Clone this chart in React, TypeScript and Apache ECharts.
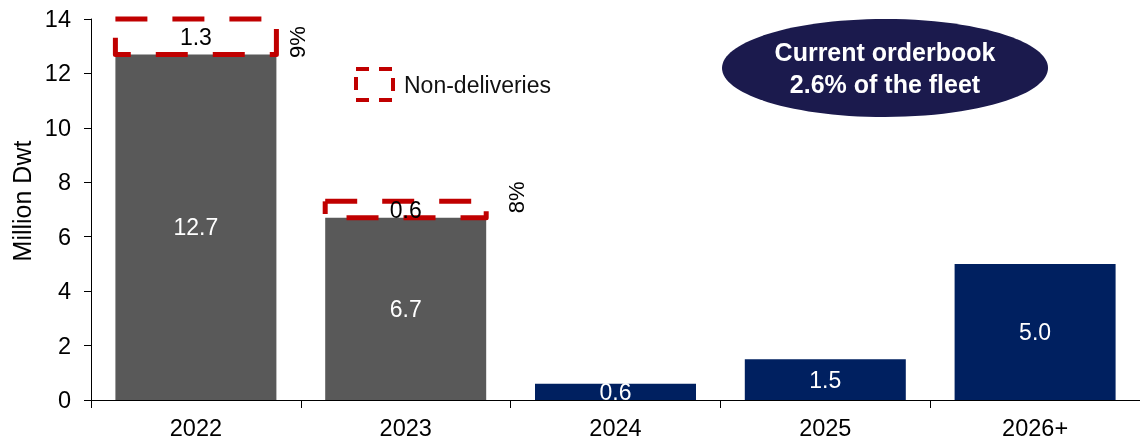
import React, { useEffect, useRef } from "react";
import * as echarts from "echarts";

// Dry bulk deliveries by year (million dwt)
const years = ["2022", "2023", "2024", "2025", "2026+"];
const delivered = [12.7, 6.7, null, null, null];
const orderbook = [null, null, 0.6, 1.5, 5.0];
const nonDeliveries = [1.3, 0.6, null, null, null];
const yTicks = { min: 0, max: 14, interval: 2 };
// where each share label sits, relative to the top-right corner of its dashed box
const pctLabelOffsets: [number, number][] = [[21, 23], [30, -4]];

const FONT = '"Liberation Sans", Arial, "DejaVu Sans", sans-serif';
const RED = "#C00000";
const BAR_WIDTH = 161;
const DASH = 32;
const GAP = 25;

// Split a rectangle outline (clockwise from its top-left corner) into dash pieces.
function dashedRectPieces(x: number, y: number, w: number, h: number): number[][][] {
  const corners = [[x, y], [x + w, y], [x + w, y + h], [x, y + h], [x, y]];
  const cum = [0, w, w + h, 2 * w + h, 2 * w + 2 * h];
  const perimeter = cum[4];
  const pointAt = (s: number) => {
    for (let k = 0; k < 4; k++) {
      if (s <= cum[k + 1]) {
        const t = (s - cum[k]) / (cum[k + 1] - cum[k] || 1);
        return [
          corners[k][0] + (corners[k + 1][0] - corners[k][0]) * t,
          corners[k][1] + (corners[k + 1][1] - corners[k][1]) * t,
        ];
      }
    }
    return corners[4];
  };
  const pieces: number[][][] = [];
  for (let start = 0; start < perimeter; start += DASH + GAP) {
    const end = Math.min(start + DASH, perimeter);
    const pts = [pointAt(start)];
    for (let k = 1; k < 4; k++) {
      if (cum[k] > start && cum[k] < end) pts.push(corners[k]);
    }
    pts.push(pointAt(end));
    pieces.push(pts);
  }
  return pieces;
}

export default function App() {
  const ref = useRef<HTMLDivElement>(null);

  useEffect(() => {
    if (!ref.current) return;
    const chart = echarts.init(ref.current, undefined, { renderer: "svg" });

    // [category index, delivered base, non-delivered amount]
    const ndData = nonDeliveries
      .map((nd, i) => (nd == null || delivered[i] == null ? null : [i, delivered[i], nd]))
      .filter(Boolean) as number[][];

    const valueLabel = (color: string) => ({
      show: true,
      position: "inside",
      color,
      fontSize: 23,
      fontFamily: FONT,
      formatter: (p: any) => (p.value == null ? "" : Number(p.value).toFixed(1)),
    });

    chart.setOption({
      animation: false,
      textStyle: { fontFamily: FONT },
      grid: { left: 91, right: -2, top: 19, bottom: 40, containLabel: false },
      legend: {
        data: ["Non-deliveries"],
        left: 354,
        top: 67,
        padding: 0,
        itemWidth: 37,
        itemHeight: 31,
        icon: "rect",
        itemStyle: {
          color: "transparent",
          borderColor: RED,
          borderWidth: 4,
          borderType: [13, 10],
        },
        textStyle: { color: "#111", fontSize: 23, fontFamily: FONT, padding: [0, 0, 0, 6] },
        selectedMode: false,
      },
      xAxis: {
        type: "category",
        data: years,
        axisLine: { lineStyle: { color: "#000", width: 1 } },
        axisTick: { show: true, length: 8, interval: 0, lineStyle: { color: "#000" } },
        axisLabel: { color: "#000", fontSize: 23.5, fontFamily: FONT, margin: 16 },
      },
      yAxis: {
        type: "value",
        min: yTicks.min,
        max: yTicks.max,
        interval: yTicks.interval,
        splitLine: { show: false },
        axisLine: { show: true, lineStyle: { color: "#000", width: 1 } },
        axisTick: { show: true, length: 7, lineStyle: { color: "#000" } },
        axisLabel: { color: "#000", fontSize: 23.5, fontFamily: FONT, margin: 20 },
      },
      series: [
        {
          name: "Delivered",
          type: "bar",
          stack: "total",
          barWidth: BAR_WIDTH,
          data: delivered,
          itemStyle: { color: "#595959" },
          label: valueLabel("#fff"),
        },
        {
          name: "Orderbook",
          type: "bar",
          stack: "total",
          barWidth: BAR_WIDTH,
          data: orderbook,
          itemStyle: { color: "#002060" },
          label: valueLabel("#fff"),
        },
        {
          // dashed box stacked on the delivered bar, with its value and its share of the total
          name: "Non-deliveries",
          type: "custom",
          data: ndData,
          encode: { x: 0, y: 2 },
          z: 3,
          itemStyle: { color: "transparent", borderColor: RED },
          renderItem: (params: any, api: any) => {
            const idx = api.value(0);
            const base = api.value(1);
            const nd = api.value(2);
            const top = api.coord([idx, base + nd]);
            const bottom = api.coord([idx, base]);
            const x = top[0] - BAR_WIDTH / 2;
            const off = pctLabelOffsets[params.dataIndex] || [24, 0];
            const pct = Math.round((nd / (base + nd)) * 100);
            const dashes = dashedRectPieces(x, top[1], BAR_WIDTH, bottom[1] - top[1]).map(
              (pts) => ({
                type: "polyline",
                shape: { points: pts },
                style: {
                  fill: "none",
                  stroke: RED,
                  lineWidth: 5,
                  lineJoin: "round",
                  lineCap: "butt",
                },
              })
            );
            return {
              type: "group",
              children: [
                ...dashes,
                {
                  type: "text",
                  x: top[0],
                  y: (top[1] + bottom[1]) / 2,
                  style: {
                    text: nd.toFixed(1),
                    fill: "#000",
                    font: `23px ${FONT}`,
                    align: "center",
                    verticalAlign: "middle",
                  },
                },
                {
                  type: "text",
                  x: x + BAR_WIDTH + off[0],
                  y: top[1] + off[1],
                  rotation: Math.PI / 2,
                  style: {
                    text: `${pct}%`,
                    fill: "#000",
                    font: `22px ${FONT}`,
                    align: "center",
                    verticalAlign: "middle",
                  },
                },
              ],
            };
          },
        },
      ],
      graphic: [
        {
          type: "text",
          x: 22,
          y: 201,
          rotation: Math.PI / 2,
          style: {
            text: "Million Dwt",
            fill: "#000",
            font: `25px ${FONT}`,
            align: "center",
            verticalAlign: "middle",
          },
        },
        {
          type: "ellipse",
          shape: { cx: 885, cy: 68, rx: 163, ry: 49 },
          style: { fill: "#1b1a4d" },
        },
        {
          type: "text",
          x: 885,
          y: 68,
          style: {
            text: "Current orderbook\n2.6% of the fleet",
            fill: "#fff",
            font: `bold 25px ${FONT}`,
            lineHeight: 32,
            align: "center",
            verticalAlign: "middle",
          },
        },
      ],
    });

    return () => chart.dispose();
  }, []);

  return (
    <div
      ref={ref}
      style={{ position: "fixed", left: 0, top: 0, width: 1140, height: 440 }}
    />
  );
}
